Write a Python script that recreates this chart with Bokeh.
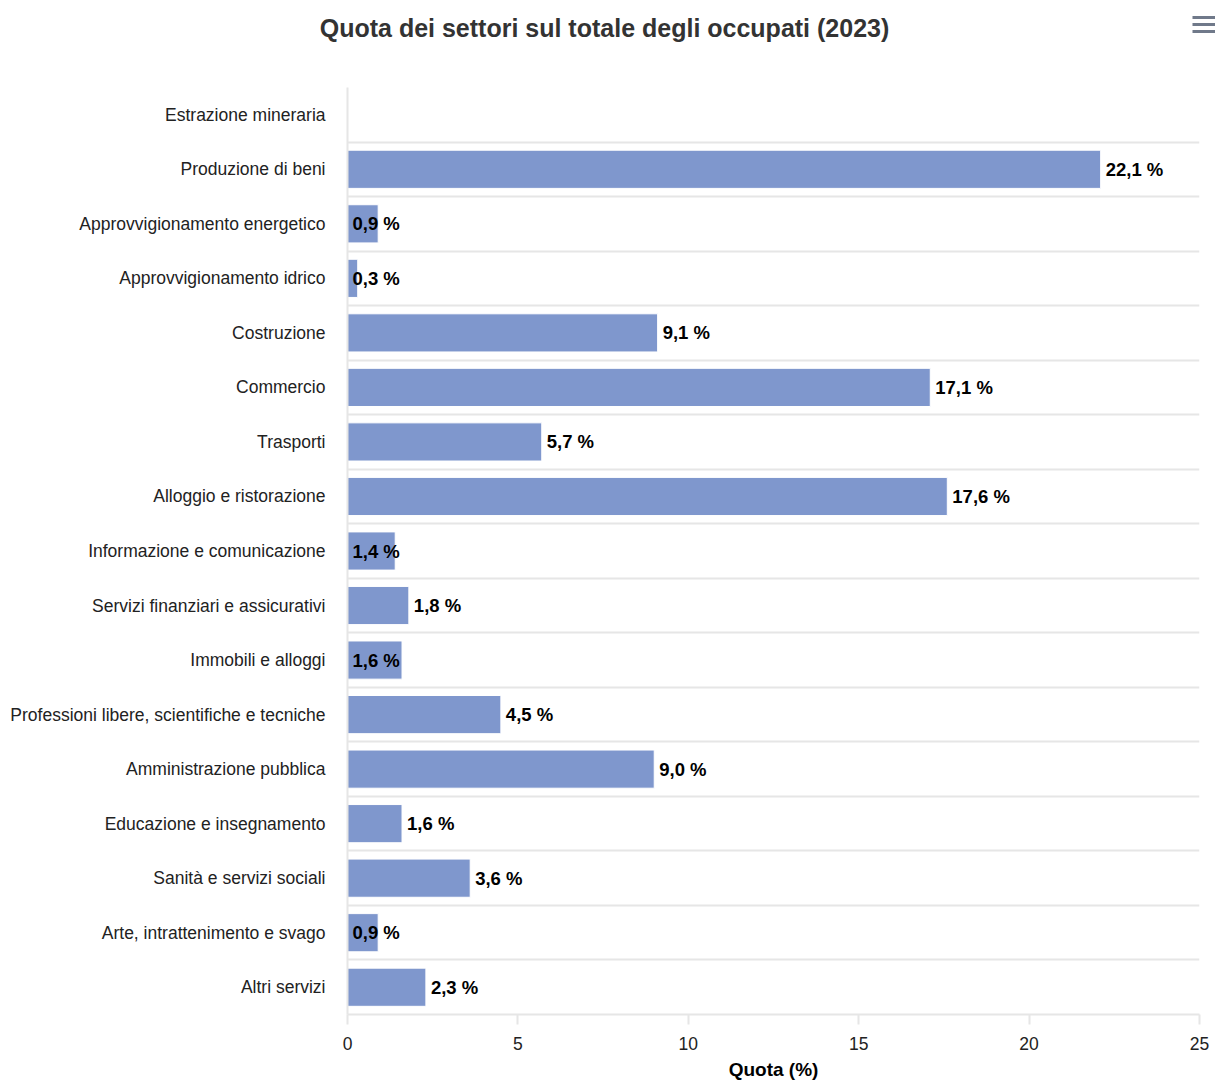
from bokeh.plotting import figure
from bokeh.models import Range1d, FixedTicker, ColumnDataSource
from bokeh.layouts import column, row
from bokeh.embed import file_html
from bokeh.resources import INLINE
from bokeh.core.properties import value

categories = [
    "Estrazione mineraria",
    "Produzione di beni",
    "Approvvigionamento energetico",
    "Approvvigionamento idrico",
    "Costruzione",
    "Commercio",
    "Trasporti",
    "Alloggio e ristorazione",
    "Informazione e comunicazione",
    "Servizi finanziari e assicurativi",
    "Immobili e alloggi",
    "Professioni libere, scientifiche e tecniche",
    "Amministrazione pubblica",
    "Educazione e insegnamento",
    "Sanità e servizi sociali",
    "Arte, intrattenimento e svago",
    "Altri servizi",
]
quota = [None, 22.1, 0.9, 0.3, 9.1, 17.1, 5.7, 17.6, 1.4, 1.8, 1.6, 4.5, 9.0, 1.6, 3.6, 0.9, 2.3]
# whether the data label is drawn starting at the axis (overlapping the bar)
label_at_axis = [False, False, True, True, False, False, False, False, True, False, True,
                 False, False, False, False, True, False]
x_ticks = [0, 5, 10, 15, 20, 25]
chart_title = "Quota dei settori sul totale degli occupati (2023)"

FONT = "Liberation Sans"
W = 1215
HEAD_H = 60
H = 1084 - HEAD_H
BL, BT, BR = 347, 87 - HEAD_H, 16
FRAME_H = 927
BB = H - BT - FRAME_H

# ---------- header (title + menu icon) ----------
head = figure(width=W, height=HEAD_H, output_backend="svg", toolbar_location=None,
              x_range=Range1d(0, W), y_range=Range1d(HEAD_H, 0),
              x_axis_type=None, y_axis_type=None, min_border=0)
head.outline_line_color = None
head.xgrid.visible = False
head.ygrid.visible = False
head.text(x=[604], y=[27], text=[chart_title], text_align="center", text_baseline="middle",
          text_font=value(FONT), text_font_size="25px", text_font_style="bold",
          text_color="#333333")
head.segment(x0=[1192, 1192, 1192], x1=[1215, 1215, 1215], y0=[17, 24, 31], y1=[17, 24, 31],
             line_color="#70798a", line_width=3)

# ---------- main chart ----------
idx = list(range(len(categories)))
bar_y = [i for i, v in zip(idx, quota) if v is not None]
bar_v = [v for v in quota if v is not None]
lab_x = [0 if a else v for v, a in zip(quota, label_at_axis) if v is not None]
lab_t = [f"{v:.1f} %".replace(".", ",") for v in bar_v]

p = figure(width=W, height=H, output_backend="svg", toolbar_location=None,
           x_range=Range1d(0, 25), y_range=Range1d(len(categories) - 0.5, -0.5),
           min_border_left=BL, min_border_right=BR, min_border_top=BT, min_border_bottom=BB)
p.outline_line_color = None
p.background_fill_color = "white"
p.border_fill_color = "white"

src = ColumnDataSource(dict(y=bar_y, v=bar_v))
p.hbar(y="y", right="v", left=0, height=0.7, source=src,
       fill_color="#7f97cd", line_color="white", line_width=1)

lsrc = ColumnDataSource(dict(x=lab_x, y=bar_y, t=lab_t))
p.text(x="x", y="y", text="t", source=lsrc, x_offset=5,
       text_align="left", text_baseline="middle",
       text_font=value(FONT), text_font_size="18.5px", text_font_style="bold",
       text_color="#000000")

# y axis (categories)
yax = p.yaxis[0]
yax.ticker = FixedTicker(ticks=idx)
yax.major_label_overrides = {i: c for i, c in zip(idx, categories)}
yax.major_tick_line_color = None
yax.minor_tick_line_color = None
yax.axis_line_color = "#e6e6e6"
yax.axis_line_width = 2
yax.major_label_text_font = FONT
yax.major_label_text_font_size = "17.5px"
yax.major_label_text_color = "#222222"
yax.major_label_text_baseline = "alphabetic"
yax.major_label_standoff = 16

# x axis (values)
xax = p.xaxis[0]
xax.ticker = FixedTicker(ticks=x_ticks)
xax.axis_line_color = "#e6e6e6"
xax.axis_line_width = 2
xax.major_tick_line_color = "#e6e6e6"
xax.major_tick_line_width = 2
xax.major_tick_out = 10
xax.major_tick_in = 0
xax.minor_tick_line_color = None
xax.major_label_text_font = FONT
xax.major_label_text_font_size = "17.5px"
xax.major_label_text_color = "#222222"
xax.major_label_standoff = 12
xax.axis_label = "Quota (%)"
xax.axis_label_text_font = FONT
xax.axis_label_text_font_size = "19px"
xax.axis_label_text_font_style = "bold"
xax.axis_label_text_color = "#000000"
xax.axis_label_standoff = 6

p.xgrid.grid_line_color = None
p.ygrid.ticker = FixedTicker(ticks=[i - 0.5 for i in range(len(categories) + 1)])
p.ygrid.grid_line_color = "#e6e6e6"
p.ygrid.grid_line_width = 2

layout = column(row(head, spacing=0), p, spacing=0)
open("out.html", "w").write(file_html(layout, INLINE))
